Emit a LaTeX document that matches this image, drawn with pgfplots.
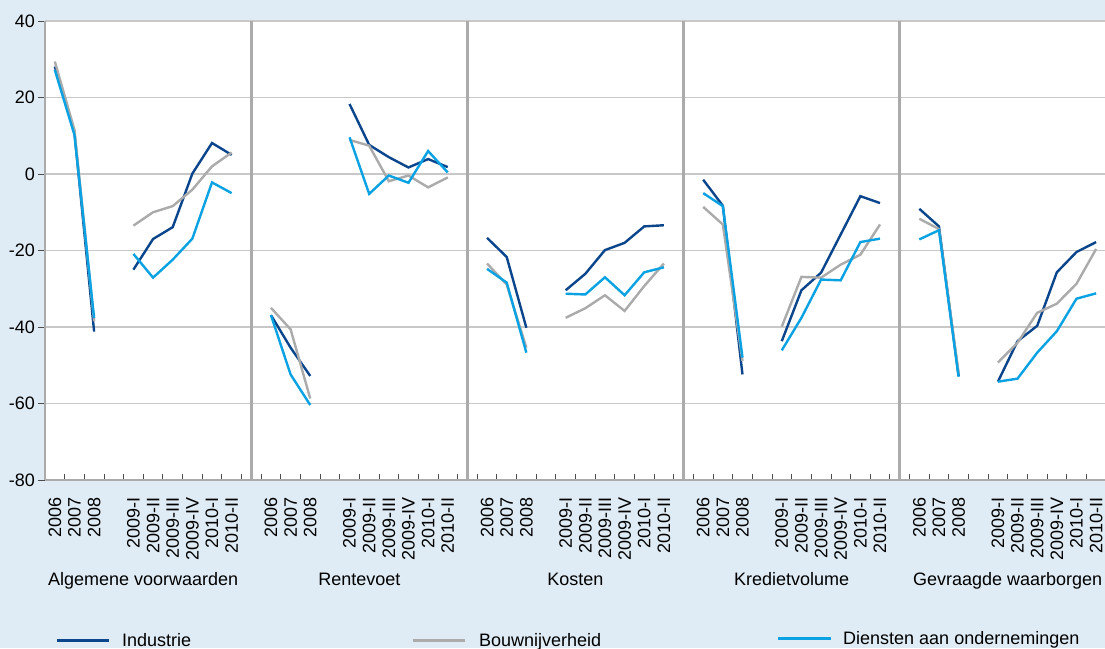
\documentclass[border=0pt]{standalone}
\usepackage{pgfplots}
\pgfplotsset{compat=1.18}
\usepackage{pgfplotstable}
\usepackage{fontspec}
\setmainfont{Liberation Sans}
\definecolor{bgc}{HTML}{DFECF5}
\definecolor{cind}{HTML}{0B468C}
\definecolor{cbouw}{HTML}{ABABAB}
\definecolor{cdien}{HTML}{0AA2E2}
\definecolor{cgrid}{HTML}{C8C8C8}
\definecolor{caxis}{HTML}{ABABAB}

\pgfplotstableread{
x y
0 28.1
1 10.7
2 -41.2
3 nan
4 -25.0
5 -17.0
6 -13.9
7 0.1
8 8.1
9 5.0
10 nan
11 -36.9
12 -45.4
13 -52.8
14 nan
15 18.3
16 7.6
17 4.4
18 1.7
19 3.9
20 1.8
21 nan
22 -16.7
23 -21.7
24 -40.2
25 nan
26 -30.4
27 -26.1
28 -19.9
29 -18.0
30 -13.7
31 -13.4
32 nan
33 -1.5
34 -8.3
35 -52.4
36 nan
37 -43.7
38 -30.4
39 -25.8
40 -15.8
41 -5.8
42 -7.6
43 nan
44 -9.1
45 -13.7
46 -52.8
47 nan
48 -54.3
49 -43.7
50 -39.7
51 -25.7
52 -20.4
53 -17.8
}\industrie

\pgfplotstableread{
x y
0 29.4
1 11.5
2 -38.5
3 nan
4 -13.5
5 -10.0
6 -8.4
7 -4.1
8 2.0
9 5.6
10 nan
11 -35.0
12 -40.6
13 -58.7
14 nan
15 8.9
16 7.4
17 -1.9
18 -0.4
19 -3.5
20 -0.9
21 nan
22 -23.4
23 -28.9
24 -45.4
25 nan
26 -37.6
27 -35.1
28 -31.7
29 -35.8
30 -29.3
31 -23.4
32 nan
33 -8.6
34 -13.2
35 -48.9
36 nan
37 -39.9
38 -26.9
39 -27.1
40 -23.7
41 -21.1
42 -13.2
43 nan
44 -11.7
45 -14.4
46 -52.0
47 nan
48 -49.3
49 -44.1
50 -36.3
51 -33.9
52 -28.7
53 -19.6
}\bouw

\pgfplotstableread{
x y
0 27.2
1 10.2
2 -37.7
3 nan
4 -20.9
5 -27.1
6 -22.4
7 -16.9
8 -2.2
9 -5.0
10 nan
11 -36.9
12 -52.4
13 -60.4
14 nan
15 9.6
16 -5.2
17 -0.4
18 -2.3
19 6.0
20 0.4
21 nan
22 -24.8
23 -28.4
24 -46.7
25 nan
26 -31.3
27 -31.5
28 -27.0
29 -31.7
30 -25.7
31 -24.4
32 nan
33 -5.0
34 -8.4
35 -48.0
36 nan
37 -46.1
38 -37.6
39 -27.6
40 -27.8
41 -17.8
42 -16.9
43 nan
44 -17.1
45 -14.7
46 -53.0
47 nan
48 -54.3
49 -53.5
50 -46.7
51 -41.1
52 -32.6
53 -31.2
}\diensten

\begin{document}
\fontsize{18}{21}\selectfont
\begin{tikzpicture}[x=1pt,y=1pt]
\useasboundingbox (0,0) rectangle (1105,648);
\fill[bgc] (0,0) rectangle (1105,648);
\begin{axis}[
  at={(45pt,168pt)}, anchor=south west,
  scale only axis, width=1061pt, height=459pt,
  xmin=-0.5, xmax=53.5, ymin=-80, ymax=40,
  axis background/.style={fill=white},
  axis x line*=bottom, axis y line*=left,
  axis line style={draw=caxis, line width=2.2pt, -},
  clip=false,
  unbounded coords=jump,
  font=\fontsize{18}{21}\selectfont,
  ytick={-80,-60,-40,-20,0,20,40},
  yticklabels={-80,-60,-40,-20,0,20,40},
  ymajorgrids,
  major grid style={draw=cgrid, line width=1.8pt},
  ytick align=outside,
  ytick style={draw=black!70, line width=0.8pt},
  major tick length=7pt,
  yticklabel style={anchor=east, inner sep=3pt},
  xtick={0,1,2,4,5,6,7,8,9,11,12,13,15,16,17,18,19,20,22,23,24,26,27,28,29,30,31,33,34,35,37,38,39,40,41,42,44,45,46,48,49,50,51,52,53},
  xticklabels={2006,2007,2008,2009-I,2009-II,2009-III,2009-IV,2010-I,2010-II,
               2006,2007,2008,2009-I,2009-II,2009-III,2009-IV,2010-I,2010-II,
               2006,2007,2008,2009-I,2009-II,2009-III,2009-IV,2010-I,2010-II,
               2006,2007,2008,2009-I,2009-II,2009-III,2009-IV,2010-I,2010-II,
               2006,2007,2008,2009-I,2009-II,2009-III,2009-IV,2010-I,2010-II},
  xticklabel style={rotate=90, anchor=east, inner sep=0pt},
  xticklabel shift=17pt,
  xtick style={draw=none},
  minor xtick={-0.5,0.5,...,53.5},
  minor x tick style={draw=black!70, line width=0.8pt},
  xtick align=inside,
  minor tick length=6pt,
  extra x ticks={10,21,32,43},
  extra x tick labels={},
  extra x tick style={grid=major, major grid style={draw=caxis, line width=2.6pt}, tick style={draw=none}},
]
\addplot[cind, line width=2.4pt] table[x=x,y=y] {\industrie};
\addplot[cbouw, line width=2.4pt] table[x=x,y=y] {\bouw};
\addplot[cdien, line width=2.4pt] table[x=x,y=y] {\diensten};
\node[anchor=base] at (axis cs:4.5,-80) [yshift=-105pt] {Algemene voorwaarden};
\node[anchor=base] at (axis cs:15.5,-80) [yshift=-105pt] {Rentevoet};
\node[anchor=base] at (axis cs:26.5,-80) [yshift=-105pt] {Kosten};
\node[anchor=base] at (axis cs:37.5,-80) [yshift=-105pt] {Kredietvolume};
\node[anchor=base] at (axis cs:48.5,-80) [yshift=-105pt] {Gevraagde waarborgen};
\end{axis}
\draw[cind, line width=3pt] (57,8) -- (109,8);
\node[anchor=base west, inner sep=0pt] at (122,2) {Industrie};
\draw[cbouw, line width=3pt] (413,8) -- (465,8);
\node[anchor=base west, inner sep=0pt] at (479,2) {Bouwnijverheid};
\draw[cdien, line width=3pt] (778,10) -- (831,10);
\node[anchor=base west, inner sep=0pt] at (843,4) {Diensten aan ondernemingen};
\end{tikzpicture}
\end{document}
